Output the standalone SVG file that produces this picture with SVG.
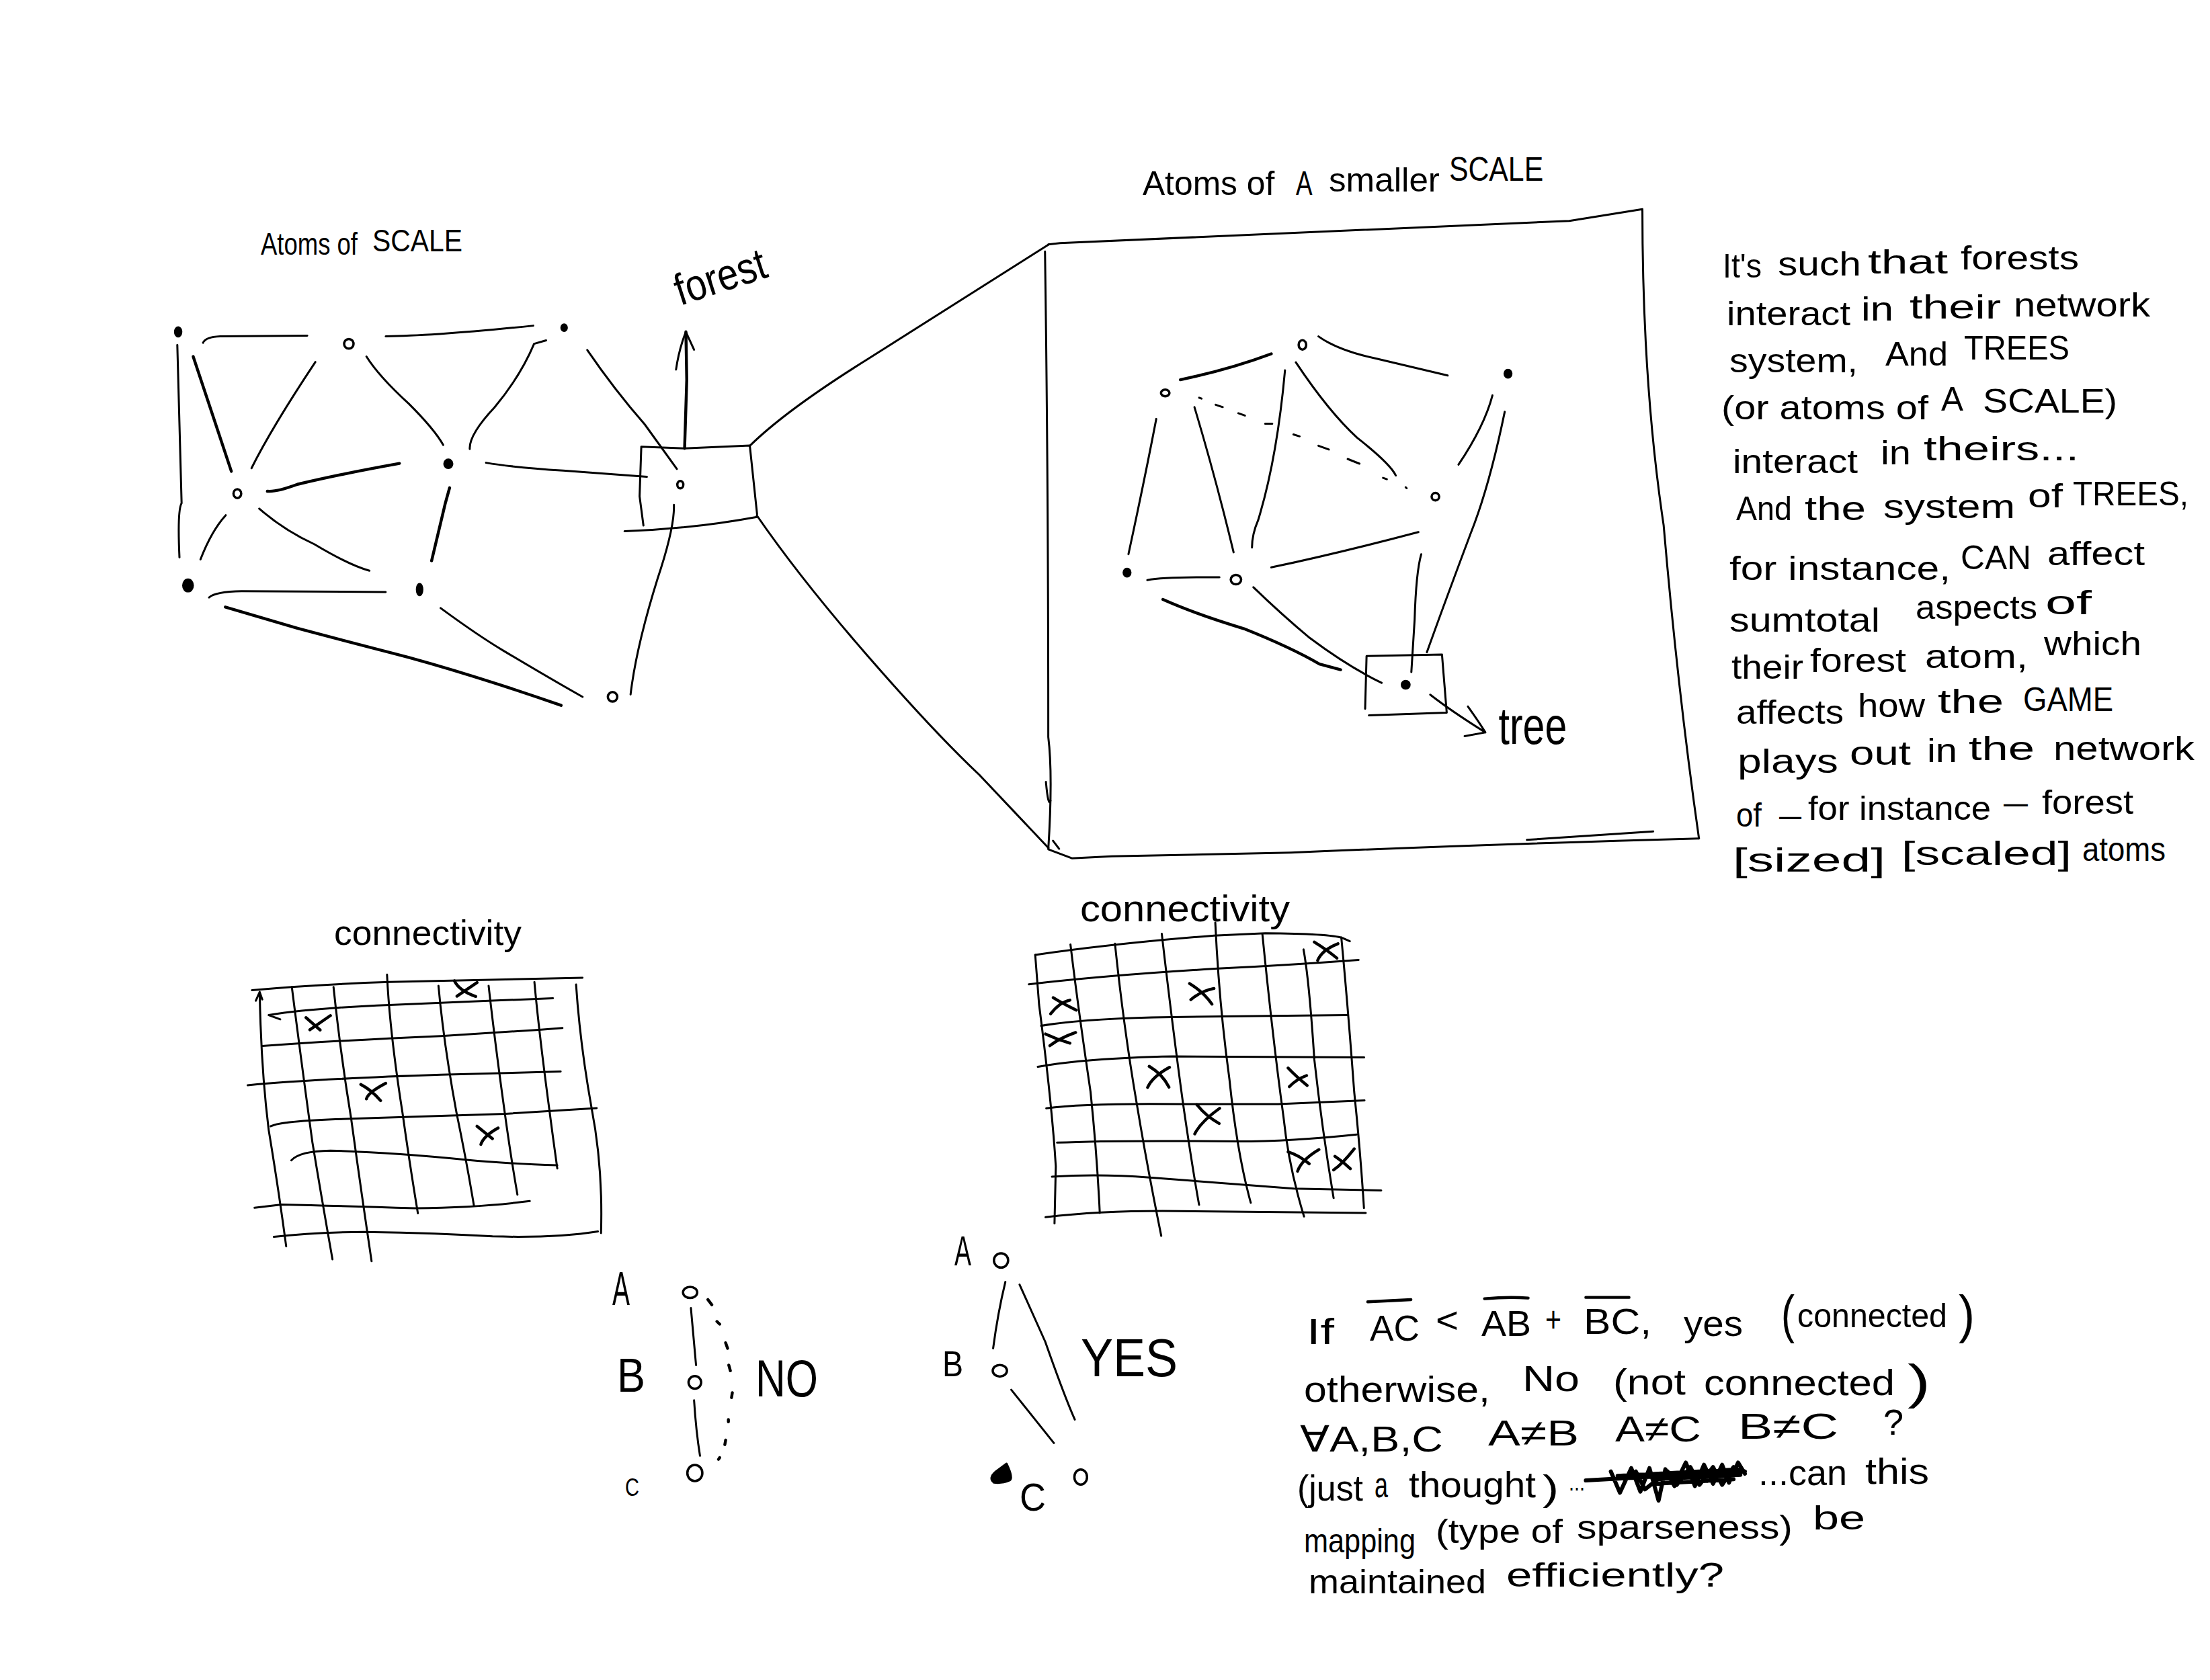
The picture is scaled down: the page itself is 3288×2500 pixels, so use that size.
<svg xmlns="http://www.w3.org/2000/svg" width="3288" height="2500" viewBox="0 0 3288 2500">
<style>
path,ellipse{vector-effect:non-scaling-stroke;stroke:#000;stroke-linecap:round;stroke-linejoin:round;fill:none}
path{stroke-width:3}
.b{stroke-width:4.4}
.x{stroke-width:6}
ellipse{stroke-width:3.5}
.d{fill:#000}
text{font-family:"Liberation Sans",Arial,sans-serif;fill:#000}
</style>
<rect width="3288" height="2500" fill="#fff"/>

<g id="connectors">
<path d="M1116 663Q1170 610 1290 535L1560 364"/>
<path d="M1126 767Q1190 860 1290 975Q1390 1090 1457 1153L1560 1262"/>
<g transform="translate(200 300) scale(.638 .51)">
<path d="M100 418L110 880Q100 900 105 1038"/>
<path class="b" d="M137 452Q190 650 226 787"/>
<path d="M160 412Q165 395 200 393L403 391"/>
<path d="M422 468Q320 660 273 778"/>
<path d="M586 393Q700 392 930 362"/>
<path d="M541 452Q570 510 640 590Q700 665 720 710"/>
<path d="M960 405L932 415Q900 510 840 600Q780 680 782 722"/>
<path d="M1056 433Q1120 550 1190 650L1265 780"/>
<path class="b" d="M310 845Q330 848 380 825Q480 795 618 764"/>
<path d="M820 762Q880 775 1000 785L1195 803"/>
<path class="b" d="M735 835L725 880L693 1048"/>
<path d="M213 915Q180 960 154 1044"/>
<path d="M291 896Q350 960 420 1000Q500 1060 548 1077"/>
<path d="M174 1155Q190 1138 250 1137L586 1139"/>
<path class="b" d="M212 1183Q300 1215 380 1245Q500 1285 640 1330Q800 1385 995 1470"/>
<path d="M714 1186Q800 1265 860 1310Q960 1385 1045 1445"/>
<path d="M1258 885Q1260 950 1220 1100Q1170 1300 1157 1438"/>
<path class="b" d="M1283 720L1288 520L1286 380"/>
<path d="M1263 490Q1270 430 1286 380Q1295 405 1305 432"/>
</g>
<g transform="translate(1500 220) scale(.7015)">
<path class="b" d="M365 492Q470 470 558 437"/>
<path d="M658 400Q700 430 780 447L932 483"/>
<path d="M1027 525Q1010 590 955 672"/>
<path d="M314 575Q290 700 255 862"/>
<path d="M395 550Q440 700 478 858"/>
<path d="M587 472Q570 660 530 790Q517 820 517 848"/>
<path d="M610 455Q680 560 740 615Q810 670 822 695"/>
<path d="M405 530L410 532M440 545L455 550M488 563L502 568M545 585L560 585M605 608L618 612M658 632L680 640M720 660L745 670M795 700L803 703M843 720L845 722"/>
<path d="M558 890Q700 860 870 815"/>
<path d="M295 917Q330 910 448 911"/>
<path class="b" d="M328 958Q400 990 500 1020Q600 1060 660 1095L705 1107"/>
<path d="M520 932Q580 990 640 1040Q720 1100 792 1135"/>
<path d="M876 862Q865 900 862 1000L855 1112"/>
<path d="M1053 560Q1020 720 980 820Q920 980 888 1070"/>
<path d="M895 1160Q940 1195 1012 1240M975 1185Q1000 1220 1012 1240L968 1248"/>
</g>
<g transform="translate(880 1830) scale(.587 .333)">
<path d="M252 350L265 605M260 762Q265 900 275 1010"/>
<path class="b" d="M295 312L305 335M318 410L325 422M340 505L345 530M348 605L352 630M357 728L355 750M347 848L347 858M340 940L338 960M325 1018L322 1026"/>
<path d="M1049 233Q1030 370 1018 530M1085 245L1150 500Q1200 750 1225 848M1064 715L1172 953"/>
</g>
</g>

<g id="frames">
<g transform="translate(200 300) scale(.638 .51)">
<path d="M1182 715L1283 720L1435 712L1452 912M1182 715L1178 860L1187 945M1143 962Q1300 955 1452 920"/>
</g>
<g transform="translate(1500 220) scale(.7015)">
<path d="M85 205L110 202Q600 180 1190 155L1345 130Q1345 500 1390 800Q1420 1150 1465 1465"/>
<path d="M78 220Q85 700 85 1250Q95 1330 85 1488L135 1507L220 1503L600 1495Q1000 1478 1465 1465M1100 1468Q1250 1458 1368 1450M80 1345Q85 1400 90 1385M95 1470L108 1487"/>
<path d="M757 1190L760 1078L920 1075L930 1198L765 1204"/>
</g>
</g>

<g id="nodes-forest" transform="translate(200 300) scale(.638 .51)">
<g id="f1"><ellipse class="d" cx="102" cy="380" rx="7" ry="13"/></g>
<g id="f2"><ellipse cx="500" cy="415" rx="11" ry="14"/></g>
<g id="f3"><ellipse class="d" cx="1002" cy="368" rx="6" ry="9"/></g>
<g id="f4"><ellipse cx="240" cy="852" rx="9" ry="13"/></g>
<g id="f5"><ellipse class="d" cx="732" cy="765" rx="9" ry="12"/></g>
<g id="f6"><ellipse cx="1273" cy="826" rx="7" ry="11"/></g>
<g id="f7"><ellipse class="d" cx="125" cy="1120" rx="11" ry="17"/></g>
<g id="f8"><ellipse class="d" cx="665" cy="1132" rx="6" ry="16"/></g>
<g id="f9"><ellipse cx="1115" cy="1445" rx="11" ry="14"/></g>
</g>
<g id="nodes-tree" transform="translate(1500 220) scale(.7015)">
<g id="t1"><ellipse cx="333" cy="520" rx="9" ry="7"/></g>
<g id="t2"><ellipse cx="624" cy="418" rx="8" ry="10"/></g>
<g id="t3"><ellipse class="d" cx="1060" cy="479" rx="7" ry="8"/></g>
<g id="t4"><ellipse cx="906" cy="740" rx="8" ry="8"/></g>
<g id="t5"><ellipse class="d" cx="252" cy="901" rx="7" ry="8"/></g>
<g id="t6"><ellipse cx="483" cy="916" rx="11" ry="10"/></g>
<g id="t7"><ellipse class="d" cx="843" cy="1139" rx="8" ry="8"/></g>
</g>
<g id="nodes-abc" transform="translate(880 1830) scale(.587 .333)">
<g id="no-a"><ellipse cx="250" cy="280" rx="18" ry="25"/></g>
<g id="no-b"><ellipse cx="262" cy="682" rx="16" ry="28"/></g>
<g id="no-c"><ellipse cx="262" cy="1087" rx="19" ry="36"/></g>
<g id="yes-a"><ellipse cx="1038" cy="137" rx="18" ry="32"/></g>
<g id="yes-b"><ellipse cx="1035" cy="630" rx="18" ry="26"/></g>
<g id="yes-c"><ellipse cx="1240" cy="1105" rx="16" ry="34"/></g>
<path class="d" d="M1052 1045Q1070 1110 1060 1120Q1040 1135 1020 1130Q1005 1110 1025 1080Z"/>
</g>

<g id="grid-left" transform="translate(350 1330) scale(.3827 .37)">
<path d="M65 388Q300 365 600 355L1350 338M130 488L175 505M130 488Q300 460 600 447L1000 430L1235 420M105 612Q400 590 800 572L1180 547L1272 540M48 770Q300 745 800 728L1265 715M138 935Q180 912 450 905L1050 885L1405 862M218 1072Q250 1035 370 1033Q600 1040 900 1070Q1050 1085 1252 1092M75 1263L180 1250Q400 1255 700 1265Q950 1262 1145 1236M150 1380Q300 1362 500 1360Q800 1365 1000 1378Q1250 1385 1410 1358"/>
<path d="M95 395Q100 700 130 950Q170 1200 198 1418M80 430L95 395L105 425M220 375Q260 700 300 1000Q340 1250 378 1470M382 375Q410 650 450 900Q490 1200 530 1478M590 325Q600 550 650 880Q680 1100 710 1285M790 370Q810 600 860 880Q900 1080 928 1255M985 370Q1010 600 1045 860Q1070 1050 1097 1210M1163 355Q1180 550 1220 860Q1235 980 1252 1105M1325 365Q1340 600 1385 860Q1430 1100 1422 1365"/>
<path class="b" d="M275 498L330 548M290 547L370 490M852 350Q870 390 935 413M862 412L940 357M488 767Q530 790 565 832M510 825Q515 800 585 762M940 935L1000 985M955 1008Q965 975 1022 942"/>
</g>
<g id="grid-right" transform="translate(1500 1310) scale(.3827 .37)">
<path d="M105 300Q400 255 800 222L1000 213Q1250 215 1300 232L1328 245M80 418Q400 380 815 355Q1100 340 1362 320M128 585Q300 555 640 550L1320 542M115 750Q300 715 640 708L1384 712M148 917Q300 895 680 900L1050 900L1385 885M190 1055Q400 1045 890 1050Q1100 1050 1355 1022M170 1192Q350 1180 550 1195Q800 1215 1110 1240L1450 1247M145 1355Q350 1330 600 1330Q1000 1335 1390 1338"/>
<path d="M105 300L120 500Q170 900 185 1150L180 1380M242 258Q270 500 320 850Q345 1100 356 1338M415 255Q450 600 500 900Q540 1150 595 1430M597 215Q640 600 680 900Q715 1150 742 1305M805 170Q820 500 860 800Q890 1100 943 1297M988 215Q1030 650 1070 950Q1090 1150 1150 1352M1148 278Q1170 400 1190 720Q1220 1000 1265 1278M1295 230Q1320 500 1345 850Q1370 1100 1383 1318"/>
<path class="b" d="M1190 248Q1240 280 1278 313M1203 322Q1220 280 1282 255M705 415Q760 450 792 498M710 480Q750 445 800 435M175 472Q210 495 265 522M165 537Q200 490 240 482M145 618Q190 640 240 655M162 665Q200 635 262 612M548 748Q600 780 625 832M542 833Q560 790 627 752M733 902Q770 950 820 978M725 1020Q750 970 822 917M1088 755Q1120 790 1162 825M1093 830Q1120 800 1160 785M1088 1092Q1130 1105 1170 1140M1125 1170Q1140 1125 1208 1083M1270 1110Q1300 1130 1330 1160M1265 1165Q1300 1140 1345 1080"/>
</g>

<g id="labels-1" font-size="46">
<text x="388" y="379" textLength="144" lengthAdjust="spacingAndGlyphs">Atoms of</text>
<text x="554" y="374" textLength="134" lengthAdjust="spacingAndGlyphs">SCALE</text>
<text x="1012" y="455" font-size="66" textLength="140" lengthAdjust="spacingAndGlyphs" transform="rotate(-18 1012 455)">forest</text>
</g>
<g id="labels-2" transform="translate(1500 220) scale(.7015)" font-size="72">
<text x="285" y="100" textLength="280" lengthAdjust="spacingAndGlyphs">Atoms of</text>
<text x="610" y="100" textLength="35" lengthAdjust="spacingAndGlyphs">A</text>
<text x="680" y="92" textLength="235" lengthAdjust="spacingAndGlyphs">smaller</text>
<text x="935" y="70" textLength="200" lengthAdjust="spacingAndGlyphs">SCALE</text>
<text x="1040" y="1265" font-size="110" textLength="145" lengthAdjust="spacingAndGlyphs">tree</text>
</g>
<g id="labels-grids">
<text x="497" y="1406" font-size="52" textLength="279" lengthAdjust="spacingAndGlyphs">connectivity</text>
<text x="1607" y="1371" font-size="55" textLength="312" lengthAdjust="spacingAndGlyphs">connectivity</text>
</g>
<g id="labels-abc" font-size="70">
<text x="911" y="1942" textLength="26" lengthAdjust="spacingAndGlyphs">A</text>
<text x="918" y="2071" textLength="42" lengthAdjust="spacingAndGlyphs">B</text>
<text x="930" y="2226" font-size="37" textLength="21" lengthAdjust="spacingAndGlyphs">C</text>
<text x="1124" y="2078" font-size="77" textLength="93" lengthAdjust="spacingAndGlyphs">NO</text>
<text x="1420" y="1883" font-size="63" textLength="25" lengthAdjust="spacingAndGlyphs">A</text>
<text x="1402" y="2048" font-size="53" textLength="31" lengthAdjust="spacingAndGlyphs">B</text>
<text x="1517" y="2248" font-size="57" textLength="39" lengthAdjust="spacingAndGlyphs">C</text>
<text x="1608" y="2048" font-size="80" textLength="144" lengthAdjust="spacingAndGlyphs">YES</text>
</g>

<g id="note-right" font-size="50">
<text x="2563" y="413" textLength="58" lengthAdjust="spacingAndGlyphs">It's</text>
<text x="2645" y="410" textLength="124" lengthAdjust="spacingAndGlyphs">such</text>
<text x="2779" y="407" textLength="119" lengthAdjust="spacingAndGlyphs">that</text>
<text x="2917" y="401" textLength="176" lengthAdjust="spacingAndGlyphs">forests</text>
<text x="2569" y="484" textLength="184" lengthAdjust="spacingAndGlyphs">interact</text>
<text x="2769" y="477" textLength="48" lengthAdjust="spacingAndGlyphs">in</text>
<text x="2841" y="474" textLength="136" lengthAdjust="spacingAndGlyphs">their</text>
<text x="2996" y="471" textLength="203" lengthAdjust="spacingAndGlyphs">network</text>
<text x="2573" y="554" textLength="191" lengthAdjust="spacingAndGlyphs">system,</text>
<text x="2805" y="544" textLength="93" lengthAdjust="spacingAndGlyphs">And</text>
<text x="2922" y="535" textLength="157" lengthAdjust="spacingAndGlyphs">TREES</text>
<text x="2561" y="624" textLength="308" lengthAdjust="spacingAndGlyphs">(or atoms of</text>
<text x="2888" y="611" textLength="33" lengthAdjust="spacingAndGlyphs">A</text>
<text x="2950" y="614" textLength="200" lengthAdjust="spacingAndGlyphs">SCALE)</text>
<text x="2578" y="704" textLength="186" lengthAdjust="spacingAndGlyphs">interact</text>
<text x="2798" y="691" textLength="45" lengthAdjust="spacingAndGlyphs">in</text>
<text x="2862" y="685" textLength="231" lengthAdjust="spacingAndGlyphs">theirs...</text>
<text x="2583" y="774" textLength="83" lengthAdjust="spacingAndGlyphs">And</text>
<text x="2685" y="774" textLength="91" lengthAdjust="spacingAndGlyphs">the</text>
<text x="2802" y="771" textLength="196" lengthAdjust="spacingAndGlyphs">system</text>
<text x="3017" y="755" textLength="52" lengthAdjust="spacingAndGlyphs">of</text>
<text x="3084" y="752" textLength="172" lengthAdjust="spacingAndGlyphs">TREES,</text>
<text x="2573" y="863" textLength="329" lengthAdjust="spacingAndGlyphs">for instance,</text>
<text x="2917" y="847" textLength="105" lengthAdjust="spacingAndGlyphs">CAN</text>
<text x="3046" y="841" textLength="145" lengthAdjust="spacingAndGlyphs">affect</text>
<text x="2573" y="940" textLength="224" lengthAdjust="spacingAndGlyphs">sumtotal</text>
<text x="2850" y="921" textLength="181" lengthAdjust="spacingAndGlyphs">aspects</text>
<text x="3043" y="914" textLength="69" lengthAdjust="spacingAndGlyphs">of</text>
<text x="2576" y="1010" textLength="107" lengthAdjust="spacingAndGlyphs">their</text>
<text x="2693" y="1000" textLength="143" lengthAdjust="spacingAndGlyphs">forest</text>
<text x="2864" y="994" textLength="153" lengthAdjust="spacingAndGlyphs">atom,</text>
<text x="3041" y="975" textLength="145" lengthAdjust="spacingAndGlyphs">which</text>
<text x="2583" y="1077" textLength="160" lengthAdjust="spacingAndGlyphs">affects</text>
<text x="2764" y="1067" textLength="100" lengthAdjust="spacingAndGlyphs">how</text>
<text x="2883" y="1061" textLength="98" lengthAdjust="spacingAndGlyphs">the</text>
<text x="3010" y="1058" textLength="134" lengthAdjust="spacingAndGlyphs">GAME</text>
<text x="2585" y="1150" textLength="150" lengthAdjust="spacingAndGlyphs">plays</text>
<text x="2752" y="1138" textLength="91" lengthAdjust="spacingAndGlyphs">out</text>
<text x="2867" y="1134" textLength="45" lengthAdjust="spacingAndGlyphs">in</text>
<text x="2929" y="1131" textLength="98" lengthAdjust="spacingAndGlyphs">the</text>
<text x="3055" y="1131" textLength="210" lengthAdjust="spacingAndGlyphs">network</text>
<text x="2583" y="1230" textLength="38" lengthAdjust="spacingAndGlyphs">of</text>
<text x="2647" y="1230" textLength="33" lengthAdjust="spacingAndGlyphs">—</text>
<text x="2690" y="1220" textLength="272" lengthAdjust="spacingAndGlyphs">for instance</text>
<text x="2981" y="1211" textLength="36" lengthAdjust="spacingAndGlyphs">—</text>
<text x="3038" y="1211" textLength="136" lengthAdjust="spacingAndGlyphs">forest</text>
<text x="2578" y="1297" textLength="227" lengthAdjust="spacingAndGlyphs">[sized]</text>
<text x="2829" y="1287" textLength="253" lengthAdjust="spacingAndGlyphs">[scaled]</text>
<text x="3098" y="1281" textLength="124" lengthAdjust="spacingAndGlyphs">atoms</text>
</g>

<g id="note-marks" transform="translate(1920 1900) scale(.676 .333)">
<path class="b" d="M170 112L265 102M427 98Q480 88 523 95M650 92L745 92"/>
<path class="x" d="M650 910L1000 870M705 870L725 965L750 855L770 960L790 855L810 1000L825 860L845 935L870 830L890 935L910 840L930 925L950 840L965 920L985 830L1000 880M720 890L990 860M800 905L990 885M800 925L975 905M760 870L780 950L830 870L850 930L880 850L900 930L930 850L950 930L975 850"/>
</g>
<g id="note-bottom" font-size="54">
<text x="1944" y="2000" textLength="41" lengthAdjust="spacingAndGlyphs">If</text>
<text x="2038" y="1995" textLength="74" lengthAdjust="spacingAndGlyphs">AC</text>
<text x="2136" y="1983" textLength="34" lengthAdjust="spacingAndGlyphs">&lt;</text>
<text x="2204" y="1988" textLength="74" lengthAdjust="spacingAndGlyphs">AB</text>
<text x="2299" y="1982" textLength="24" lengthAdjust="spacingAndGlyphs">+</text>
<text x="2356" y="1985" textLength="101" lengthAdjust="spacingAndGlyphs">BC,</text>
<text x="2505" y="1988" textLength="88" lengthAdjust="spacingAndGlyphs">yes</text>
<text x="2650" y="1983" font-size="77" textLength="20" lengthAdjust="spacingAndGlyphs">(</text>
<text x="2674" y="1975" font-size="50" textLength="223" lengthAdjust="spacingAndGlyphs">connected</text>
<text x="2914" y="1983" font-size="77" textLength="24" lengthAdjust="spacingAndGlyphs">)</text>
<text x="1940" y="2086" textLength="277" lengthAdjust="spacingAndGlyphs">otherwise,</text>
<text x="2265" y="2070" textLength="85" lengthAdjust="spacingAndGlyphs">No</text>
<text x="2400" y="2075" textLength="108" lengthAdjust="spacingAndGlyphs">(not</text>
<text x="2535" y="2076" textLength="284" lengthAdjust="spacingAndGlyphs">connected</text>
<text x="2838" y="2081" font-size="73" textLength="34" lengthAdjust="spacingAndGlyphs">)</text>
<text x="1934" y="2160" textLength="213" lengthAdjust="spacingAndGlyphs">∀A,B,C</text>
<text x="2214" y="2151" textLength="135" lengthAdjust="spacingAndGlyphs">A≠B</text>
<text x="2403" y="2145" textLength="128" lengthAdjust="spacingAndGlyphs">A≠C</text>
<text x="2586" y="2141" textLength="149" lengthAdjust="spacingAndGlyphs">B≠C</text>
<text x="2802" y="2135" textLength="30" lengthAdjust="spacingAndGlyphs">?</text>
<text x="1930" y="2233" textLength="98" lengthAdjust="spacingAndGlyphs">(just</text>
<text x="2045" y="2228" textLength="20" lengthAdjust="spacingAndGlyphs">a</text>
<text x="2096" y="2228" textLength="189" lengthAdjust="spacingAndGlyphs">thought</text>
<text x="2295" y="2233" textLength="24" lengthAdjust="spacingAndGlyphs">)</text>
<text x="2334" y="2218" font-size="37" textLength="24" lengthAdjust="spacingAndGlyphs">...</text>
<text x="2616" y="2210" textLength="132" lengthAdjust="spacingAndGlyphs">...can</text>
<text x="2775" y="2208" textLength="95" lengthAdjust="spacingAndGlyphs">this</text>
<text x="1940" y="2310" font-size="50" textLength="166" lengthAdjust="spacingAndGlyphs">mapping</text>
<text x="2136" y="2296" font-size="50" textLength="189" lengthAdjust="spacingAndGlyphs">(type of</text>
<text x="2346" y="2290" font-size="50" textLength="321" lengthAdjust="spacingAndGlyphs">sparseness)</text>
<text x="2697" y="2276" font-size="50" textLength="78" lengthAdjust="spacingAndGlyphs">be</text>
<text x="1947" y="2371" font-size="50" textLength="264" lengthAdjust="spacingAndGlyphs">maintained</text>
<text x="2241" y="2361" font-size="50" textLength="324" lengthAdjust="spacingAndGlyphs">efficiently?</text>
</g>
</svg>
